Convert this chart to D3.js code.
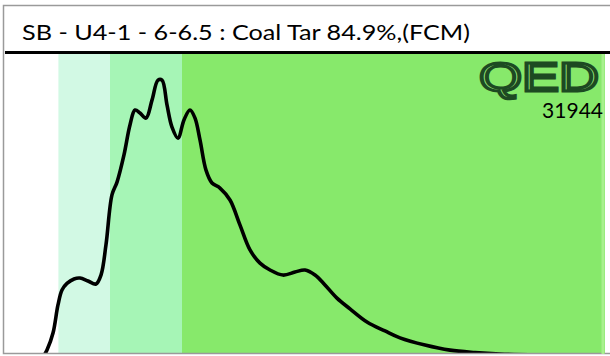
<!DOCTYPE html>
<html><head><meta charset="utf-8">
<script src="https://cdn.jsdelivr.net/npm/d3@7"></script>
<style>body{margin:0;background:#fff}svg{display:block}</style>
</head><body>
<svg id="c" width="610" height="356"></svg>
<script>
const title = "SB - U4-1 - 6-6.5 : Coal Tar 84.9%,(FCM)";
const logoText = "QED";
const sampleId = "31944";
// band boundaries (x units) and colors
const bandStarts = [0, 8.9, 17.5, 29.5];
const bandEnds   = [8.9, 17.5, 29.5, 100];
const bandColors = ["#ffffff", "#d2f9e4", "#a6f5b6", "#87e96b"];
// curve
const xs = [6.5,7.0,8.0,8.83,9.5,10.33,11.5,12.5,13.83,15.17,16.0,16.83,17.83,18.67,19.83,20.83,21.67,22.5,23.5,24.5,25.5,26.17,27.0,27.83,28.83,29.83,30.83,31.67,32.5,33.5,34.5,35.83,37.5,39.17,40.83,42.5,44.17,46.33,48.33,50.0,51.67,53.33,55.33,57.5,60.33,63.33,65.83,70.0,74.17,78.33,82.5,89.0,95.0,100];
const ys = [-0.5,1.3,7.0,16.4,21.4,23.6,25.1,25.4,24.4,23.4,26.4,36.5,53.2,57.5,66.6,76.6,81.6,80.6,78.9,84.9,91.6,91.6,83.3,75.9,72.2,78.3,81.6,78.9,71.6,61.5,57.2,55.5,51.5,43.1,34.8,30.4,28.1,26.4,27.4,28.1,26.4,23.1,18.7,15.1,10.7,7.7,5.4,3.0,1.3,0.5,0.0,-0.3,-0.4,-0.4];

const svg = d3.select("#c");
const pL = 5, pR = 605, pT = 54, pB = 354;
const x = d3.scaleLinear().domain([0,100]).range([pL,pR]);
const y = d3.scaleLinear().domain([0,100]).range([pB, 55]);

svg.append("defs").append("clipPath").attr("id","clip")
  .append("rect").attr("x",pL).attr("y",pT).attr("width",pR-pL).attr("height",pB-pT);

const g = svg.append("g").attr("clip-path","url(#clip)");
g.selectAll("rect.band").data(bandStarts).join("rect").attr("class","band")
  .attr("x", (d)=>x(d)).attr("y",pT)
  .attr("width",(d,i)=>x(bandEnds[i])-x(d)).attr("height",pB-pT)
  .attr("fill",(d,i)=>bandColors[i]);

const pts = xs.map((v,i)=>[v,ys[i]]);
g.append("path").datum(pts)
  .attr("d", d3.line().x(d=>x(d[0])).y(d=>y(d[1])).curve(d3.curveCatmullRom.alpha(0.5)))
  .attr("fill","none").attr("stroke","#000").attr("stroke-width",3.6).attr("stroke-linejoin","round");

// frame
svg.append("rect").attr("x",3.5).attr("y",5.5).attr("width",610).attr("height",348)
  .attr("fill","none").attr("stroke","#9a9a9a").attr("stroke-width",1.5);
svg.append("line").attr("x1",5).attr("x2",610).attr("y1",52.5).attr("y2",52.5)
  .attr("stroke","#000").attr("stroke-width",3);
svg.append("line").attr("x1",603).attr("x2",603).attr("y1",54).attr("y2",354)
  .attr("stroke","#a8f08e").attr("stroke-width",3);

svg.append("text").attr("x",22).attr("y",40)
  .attr("font-family","Lato, 'Open Sans', sans-serif").attr("font-size",21.5)
  .attr("textLength",448).attr("lengthAdjust","spacingAndGlyphs")
  .attr("fill","#000").text(title);

svg.append("text").attr("x",479).attr("y",91)
  .attr("font-family","'Liberation Sans', sans-serif").attr("font-size",41)
  .attr("textLength",120).attr("lengthAdjust","spacingAndGlyphs")
  .attr("fill","#8ee774").attr("stroke","#1d4a22").attr("stroke-width",3)
  .text(logoText);

svg.append("text").attr("x",603).attr("y",118).attr("text-anchor","end")
  .attr("font-family","Lato, 'Open Sans', sans-serif").attr("font-size",21)
  .attr("fill","#000").text(sampleId);
</script>
</body></html>
